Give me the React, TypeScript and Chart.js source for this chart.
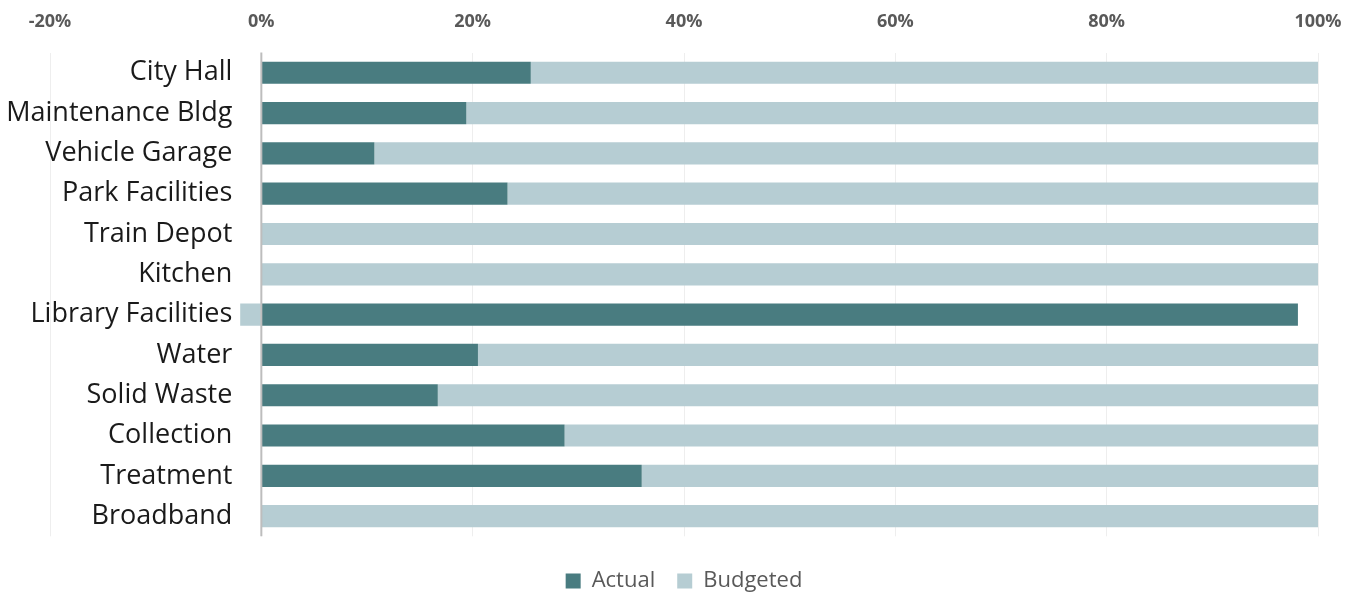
import React, { useEffect, useRef } from "react";
import { Chart, registerables } from "chart.js";

Chart.register(...registerables);

const categories = [
  "City Hall",
  "Maintenance Bldg",
  "Vehicle Garage",
  "Park Facilities",
  "Train Depot",
  "Kitchen",
  "Library Facilities",
  "Water",
  "Solid Waste",
  "Collection",
  "Treatment",
  "Broadband",
];
const actual = [25.5, 19.4, 10.7, 23.3, 0, 0, 98.1, 20.5, 16.7, 28.7, 36.0, 0];
const budgeted = [74.5, 80.6, 89.3, 76.7, 100, 100, -2.0, 79.5, 83.3, 71.3, 64.0, 100];
const xTicks = [-20, 0, 20, 40, 60, 80, 100];

const DARK = "rgb(73,124,128)";
const LIGHT = "rgb(182,205,211)";
const FONT = "'Open Sans', 'Noto Sans', sans-serif";

export default function App() {
  const ref = useRef<HTMLCanvasElement | null>(null);
  useEffect(() => {
    if (!ref.current) return;
    const labelPlugin = {
      id: "customLabels",
      afterDatasetsDraw(chart: any) {
        const { ctx } = chart;
        const xs = chart.scales.x;
        const ys = chart.scales.y;
        const x0 = xs.getPixelForValue(0);
        ctx.save();
        ctx.strokeStyle = "#bdbdbd";
        ctx.lineWidth = 2;
        ctx.beginPath();
        ctx.moveTo(x0, chart.chartArea.top);
        ctx.lineTo(x0, chart.chartArea.bottom);
        ctx.stroke();
        ctx.fillStyle = "#1a1a1a";
        ctx.font = `27px ${FONT}`;
        ctx.textAlign = "right";
        ctx.textBaseline = "middle";
        categories.forEach((c, i) => {
          ctx.fillText(c, x0 - 29, ys.getPixelForValue(i));
        });
        ctx.restore();
      },
    };
    const chart = new Chart(ref.current, {
      type: "bar",
      data: {
        labels: categories,
        datasets: [
          {
            label: "Actual",
            data: actual,
            backgroundColor: DARK,
            borderWidth: 0,
            categoryPercentage: 1,
            barPercentage: 0.55,
          },
          {
            label: "Budgeted",
            data: budgeted,
            backgroundColor: LIGHT,
            borderWidth: 0,
            categoryPercentage: 1,
            barPercentage: 0.55,
          },
        ],
      },
      options: {
        indexAxis: "y",
        animation: false,
        responsive: true,
        maintainAspectRatio: false,
        layout: { padding: { left: 50, right: 40, top: -8, bottom: -7 } },
        scales: {
          x: {
            position: "top",
            stacked: true,
            min: -20,
            max: 100,
            afterBuildTicks: (s: any) => {
              s.ticks = xTicks.map((v) => ({ value: v }));
            },
            afterFit: (s: any) => {
              s.paddingLeft = 0;
              s.paddingRight = 0;
            },
            border: { display: false },
            grid: {
              drawTicks: false,
              color: "#eeeeee",
              lineWidth: 1,
            },
            ticks: {
              padding: 19.5,
              color: "#595959",
              font: { family: FONT, size: 18, weight: "bold" },
              callback: (v: any) => `${v}%`,
            },
          },
          y: {
            stacked: true,
            display: false,
          },
        },
        plugins: {
          legend: {
            position: "bottom",
            title: {
              display: true,
              text: "",
              font: { size: 1 },
              padding: { top: 10.5, bottom: 0 },
            },
            labels: {
              boxWidth: 15,
              boxHeight: 15,
              padding: 22,
              color: "#595959",
              font: { family: FONT, size: 22 },
            },
          },
          tooltip: { enabled: false },
        },
      },
      plugins: [labelPlugin],
    });
    return () => chart.destroy();
  }, []);
  return (
    <div style={{ position: "fixed", left: 0, top: 0, width: 1358, height: 595 }}>
      <canvas ref={ref} />
    </div>
  );
}
